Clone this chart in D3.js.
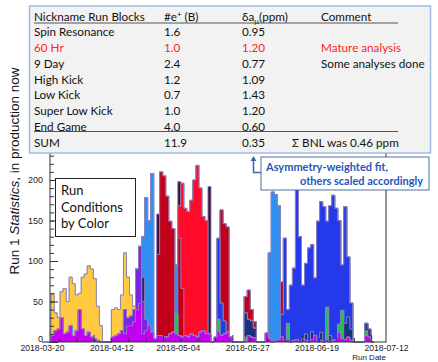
<!DOCTYPE html>
<html>
<head>
<meta charset="utf-8">
<script src="https://cdn.jsdelivr.net/npm/d3@7"></script>
<style>
  body { margin: 0; background: #fff; }
  svg { display: block; }
</style>
</head>
<body>
<script>
// one bin per day, starting 2018-03-20
const binStart = "2018-03-20";
const labelDates = ["2018-03-20", "2018-04-12", "2018-05-04", "2018-05-27", "2018-06-19", "2018-07-12"];
const yTicks = [0, 50, 100, 150, 200];

const magenta = [
  0,0,0,8,14,16,30,10,12,20,
  8,14,40,16,8,12,6,4,2,0,
  0,0,0,6,8,10,14,10,20,20,
  25,40,48,10,14,20,12,4,8,8,
  6,6,10,12,10,8,6,8,6,10,
  8,6,12,14,10,10,0,6,13,8,
  10,12,6,0,0,0,0,0,8,6,
  5,0,0,0,11,4,0,2,3,6,
  2,3,0,2,3,0,4,2,0,3,
  8,0,2,0,3,0,2,3,12,4,
  3,6,2,0,0,0,0,8,6,0];
const purple = [
  0,0,0,0,0,0,0,0,0,0,
  0,0,0,0,0,0,0,0,0,0,
  0,0,0,0,0,0,0,30,10,12,
  15,50,70,40,14,0,0,0,0,0,
  0,0,0,0,0,0,0,0,0,0,
  0,0,0,0,0,0,0,0,0,0,
  0,0,0,0,0,0,0,0,0,0,
  0,0,0,0,0,0,0,0,0,0,
  0,0,0,0,0,0,0,0,0,0,
  0,0,0,0,0,0,0,0,0,0,
  0,0,0,0,0,0,0,0,0,0];
const green = [
  0,0,0,0,0,0,0,0,0,0,
  0,0,0,0,0,0,0,0,0,0,
  0,0,0,0,0,0,0,0,0,0,
  0,0,0,0,0,0,0,0,0,0,
  0,0,0,0,25,0,0,0,0,0,
  0,0,0,0,0,0,0,0,15,0,
  0,0,0,0,0,0,0,6,0,0,
  0,0,0,0,0,0,0,0,0,0,
  0,20,0,0,0,0,0,0,0,0,
  0,0,0,0,40,0,0,0,10,35,
  0,0,0,0,0,0,0,6,0,0];
const navy = [
  0,0,0,0,0,0,0,0,0,0,
  0,0,0,0,0,0,0,0,0,0,
  0,0,0,0,0,0,0,0,0,0,
  0,0,0,30,0,0,0,0,0,0,
  0,0,0,0,0,0,0,0,0,0,
  0,0,0,0,0,0,0,0,0,0,
  0,0,0,0,0,0,0,30,20,20,
  12,0,0,0,0,0,0,0,0,0,
  0,0,0,0,0,0,0,8,0,10,
  0,0,10,0,0,8,0,0,0,0,
  20,25,14,0,0,0,0,9,10,0];
const blue = [
  0,0,0,0,0,0,0,0,0,0,
  0,0,0,0,0,0,0,0,0,0,
  0,0,0,0,0,0,0,0,0,0,
  0,0,0,0,0,0,0,0,0,0,
  0,0,0,0,0,0,0,0,0,0,
  0,0,0,0,0,0,0,0,100,40,
  16,0,0,0,0,0,0,0,0,0,
  0,0,0,0,0,0,0,0,0,28,
  126,17,70,89,197,130,66,87,116,107,
  71,149,161,167,106,160,179,162,128,56,
  144,74,32,0,0,0,0,0,0,0];
const lightblue = [
  0,0,0,0,0,0,0,0,0,0,
  0,0,0,0,0,0,0,0,0,0,
  0,0,0,0,0,0,0,0,0,0,
  0,0,0,50,150,130,196,0,0,0,
  0,0,0,0,60,0,0,0,0,0,
  0,0,0,0,0,0,0,0,0,0,
  0,0,0,0,0,0,0,0,0,0,
  0,0,0,0,0,106,185,180,165,0,
  0,0,0,0,0,0,0,0,0,0,
  0,0,0,0,0,0,0,0,0,0,
  0,0,0,0,0,0,0,0,0,0];
const darkred = [
  0,0,0,0,0,0,0,0,0,0,
  0,0,0,0,0,0,0,0,0,0,
  0,0,0,0,0,0,0,0,0,0,
  0,0,0,0,0,0,0,0,100,202,
  199,174,139,128,0,120,60,0,0,0,
  0,0,0,0,0,0,0,0,0,115,
  120,130,0,0,0,0,0,20,36,14,
  8,0,0,0,0,0,0,0,0,40,
  0,0,0,0,0,0,0,0,0,0,
  0,0,0,0,0,0,0,0,0,0,
  0,0,0,0,0,0,0,0,0,0];
const red = [
  0,0,0,0,0,0,0,0,0,0,
  0,0,0,0,0,0,0,0,0,0,
  0,0,0,0,0,0,0,0,0,0,
  0,0,0,0,0,0,0,0,0,0,
  0,0,0,0,0,40,130,157,155,165,
  192,212,178,141,140,0,0,0,0,0,
  0,0,0,0,0,0,0,0,0,0,
  0,0,0,0,0,0,0,0,0,0,
  0,0,0,0,0,0,0,0,0,0,
  0,0,0,0,0,0,0,0,0,0,
  0,0,0,0,0,0,0,0,0,0];
const orange = [
  0,0,0,52,22,14,32,56,38,60,
  64,44,20,64,76,82,84,74,42,20,
  0,0,0,34,34,30,44,70,50,26,
  4,0,0,0,0,0,0,0,0,0,
  0,0,0,0,0,0,0,0,0,0,
  0,0,0,0,0,0,0,0,0,0,
  0,0,0,0,0,0,0,0,0,0,
  0,0,0,0,0,0,0,0,0,0,
  0,0,0,0,0,0,0,0,0,0,
  0,0,0,0,0,0,0,0,0,0,
  0,0,0,0,0,0,0,0,0,0];
const maroon = [
  0,0,0,0,0,0,0,0,0,0,
  0,0,0,0,0,0,0,0,0,0,
  0,0,0,0,0,0,0,0,0,0,
  0,0,0,0,0,0,0,0,50,0,
  0,0,0,0,0,30,0,0,0,0,
  0,0,0,0,0,182,0,0,0,0,
  0,0,0,0,0,0,0,0,0,0,
  0,0,0,0,0,0,0,0,0,0,
  0,0,0,0,0,0,0,0,0,0,
  0,0,0,0,0,0,0,0,0,0,
  0,0,0,0,0,0,0,0,0,0];

// stack order, bottom to top
const seriesKeys = ["magenta", "purple", "green", "navy", "blue", "lightblue", "darkred", "red", "orange", "maroon"];
const seriesValues = { magenta, purple, green, navy, blue, lightblue, darkred, red, orange, maroon };
const seriesColors = {
  magenta: "#c400f2", purple: "#7a26e4", green: "#1ec44c", navy: "#1d2f78",
  blue: "#2439ea", lightblue: "#2f8ef0", darkred: "#c2001a", red: "#ff0a28",
  orange: "#ffc941", maroon: "#3c0a2e"
};

const tableHeader = ["Nickname Run Blocks", "#e", "δa", "Comment"];
const tableRows = [
  ["Spin Resonance", "1.6", "0.95", ""],
  ["60 Hr", "1.0", "1.20", "Mature analysis"],
  ["9 Day", "2.4", "0.77", "Some analyses done"],
  ["High Kick", "1.2", "1.09", ""],
  ["Low Kick", "0.7", "1.43", ""],
  ["Super Low Kick", "1.0", "1.20", ""],
  ["End Game", "4.0", "0.60", ""]
];
const sumRow = ["SUM", "11.9", "0.35", "Σ BNL was 0.46 ppm"];
const highlighted = "60 Hr";
const legendLines = ["Run", "Conditions", "by Color"];
const noteLines = ["Asymmetry-weighted fit,", "others scaled accordingly"];

const W = 438, H = 362;
const frame = { left: 50, right: 386, top: 147, bottom: 342 };
const axisFont = "'Liberation Sans', Arial, sans-serif";
const boxFont = "Lato, 'Open Sans', sans-serif";

const svg = d3.select("body").append("svg").attr("width", W).attr("height", H);

const parse = d3.utcParse("%Y-%m-%d");
const t0 = parse(binStart);
const x = d3.scaleUtc()
  .domain([parse("2018-03-20"), parse("2018-07-12")])
  .range([42, frame.right]);
const y = d3.scaleLinear().domain([0, 240]).range([frame.bottom, frame.bottom - 240 * 0.81]);

const rows = magenta.map((_, i) => {
  const r = { date: d3.utcDay.offset(t0, i) };
  seriesKeys.forEach(k => r[k] = seriesValues[k][i]);
  return r;
});
const stacked = d3.stack().keys(seriesKeys)(rows);

// each layer drawn as filled step histogram from 0 to its cumulative top (ROOT THStack style)
const stepLine = d3.line().x(p => p[0]).y(p => p[1]);
function stepPoints(layer) {
  const pts = [[x(rows[0].date), y(0)]];
  layer.forEach((s, i) => {
    const x0 = x(rows[i].date), x1 = x(d3.utcDay.offset(rows[i].date, 1));
    pts.push([x0, y(s[1])], [x1, y(s[1])]);
  });
  pts.push([x(d3.utcDay.offset(rows[rows.length - 1].date, 1)), y(0)]);
  return pts;
}

const bars = svg.append("g");
stacked.slice().reverse().forEach(layer => {
  const pts = stepPoints(layer);
  bars.append("path")
    .attr("d", stepLine(pts) + "Z")
    .attr("fill", seriesColors[layer.key])
    .attr("stroke", "none");
  bars.append("path")
    .attr("d", stepLine(pts.slice(1, -1)))
    .attr("fill", "none")
    .attr("stroke", "#8c84bc")
    .attr("stroke-width", 0.9);
});

// frame
svg.append("rect")
  .attr("x", frame.left).attr("y", frame.top)
  .attr("width", frame.right - frame.left).attr("height", frame.bottom - frame.top)
  .attr("fill", "none").attr("stroke", "#333").attr("stroke-width", 1);

// y axis, ticks pointing inside
const yAxis = svg.append("g")
  .attr("transform", `translate(${frame.left},0)`)
  .call(d3.axisLeft(y).tickValues(yTicks).tickSize(-8).tickPadding(7));
svg.append("g")
  .attr("transform", `translate(${frame.left},0)`)
  .call(d3.axisLeft(y).tickValues(d3.range(0, 241, 10)).tickSize(-4).tickFormat(""))
  .call(g => g.select(".domain").remove());
yAxis.select(".domain").remove();
yAxis.selectAll("text").attr("font-family", axisFont).attr("font-size", 9).attr("fill", "#222")
  .attr("dy", d => d === 0 ? "-0.08em" : "0.32em");
svg.selectAll(".tick line").attr("stroke", "#333");

// x axis
const fmt = d3.utcFormat("%Y-%m-%d");
const xAxis = svg.append("g")
  .attr("transform", `translate(0,${frame.bottom})`)
  .call(d3.axisBottom(x).tickValues(labelDates.map(parse)).tickSize(0).tickPadding(3).tickFormat(fmt));
xAxis.select(".domain").remove();
xAxis.selectAll("text").attr("font-family", axisFont).attr("font-size", 8.6).attr("fill", "#222");
const minor = d3.range(0, 115, 23 / 4).map(d => d3.utcHour.offset(parse("2018-03-20"), d * 24))
  .filter(d => x(d) > frame.left + 1 && x(d) < frame.right - 1);
svg.append("g").selectAll("line").data(minor).join("line")
  .attr("x1", d => x(d)).attr("x2", d => x(d))
  .attr("y1", frame.bottom).attr("y2", (d, i) => frame.bottom - ((i % 4 === 2) ? 7 : 4))
  .attr("stroke", "#333");

svg.append("text")
  .attr("x", frame.right).attr("y", 360.2)
  .attr("text-anchor", "end")
  .attr("font-family", axisFont).attr("font-size", 8).attr("fill", "#222")
  .text("Run Date");

// y title
const yTitle = svg.append("text")
  .attr("transform", "translate(19,171) rotate(-90)")
  .attr("text-anchor", "middle")
  .attr("font-family", axisFont).attr("font-size", 13.5).attr("fill", "#111");
yTitle.append("tspan").text("Run 1 ");
yTitle.append("tspan").attr("font-style", "italic").text("Statistics");
yTitle.append("tspan").text(", in production now");

// legend box
const leg = svg.append("g");
leg.append("rect").attr("x", 55.5).attr("y", 178.5).attr("width", 80).attr("height", 58)
  .attr("fill", "#fff").attr("stroke", "#222").attr("stroke-width", 1);
leg.selectAll("text").data(legendLines).join("text")
  .attr("x", 61).attr("y", (d, i) => 195 + i * 16.5)
  .attr("font-family", boxFont).attr("font-size", 13).attr("fill", "#111")
  .text(d => d);

// annotation box with arrow
const note = svg.append("g");
note.append("rect").attr("x", 261).attr("y", 157).attr("width", 168).attr("height", 33)
  .attr("fill", "#fff").attr("stroke", "#4d6fa3").attr("stroke-width", 1);
note.append("path").attr("d", "M261,172.5H253.5V159").attr("fill", "none")
  .attr("stroke", "#3f66a6").attr("stroke-width", 1.5);
note.append("path").attr("d", "M250.5,161L253.5,156L256.5,161Z").attr("fill", "#3f66a6");
note.selectAll("text").data(noteLines).join("text")
  .attr("x", (d, i) => i === 0 ? 266 : 300)
  .attr("y", (d, i) => 171 + i * 14)
  .attr("font-family", boxFont).attr("font-size", 11).attr("font-weight", 700)
  .attr("fill", "#2457b8")
  .text(d => d);

// table
const tab = svg.append("g");
tab.append("rect").attr("x", 29.5).attr("y", 6).attr("width", 401).attr("height", 147)
  .attr("fill", "#f2f2f2").attr("stroke", "#9fbde2").attr("stroke-width", 1.5);
const colX = [34, 164, 242, 321];
const rowY = i => 20.5 + i * 15.75;
const tFont = (sel) => sel.attr("font-family", boxFont).attr("font-size", 11.7);

const hdr = tab.append("g").attr("fill", "#111");
tFont(hdr.append("text").attr("x", colX[0]).attr("y", rowY(0))).text(tableHeader[0]);
const h1 = tFont(hdr.append("text").attr("x", colX[1]).attr("y", rowY(0)));
h1.append("tspan").text(tableHeader[1]);
h1.append("tspan").attr("dy", -4).attr("font-size", 8).text("+");
h1.append("tspan").attr("dy", 4).text(" (B)");
const h2 = tFont(hdr.append("text").attr("x", colX[2]).attr("y", rowY(0)));
h2.append("tspan").text(tableHeader[2]);
h2.append("tspan").attr("dy", 3).attr("font-size", 8).text("μ");
h2.append("tspan").attr("dy", -3).text("(ppm)");
tFont(hdr.append("text").attr("x", colX[3]).attr("y", rowY(0))).text(tableHeader[3]);

tableRows.forEach((r, i) => {
  const col = r[0] === highlighted ? "#ff1f1f" : "#111";
  r.forEach((cell, j) => {
    tFont(tab.append("text").attr("x", colX[j]).attr("y", rowY(i + 1)).attr("fill", col)).text(cell);
  });
});
const sumX = [34, 164, 242, 292];
sumRow.forEach((cell, j) => {
  tFont(tab.append("text").attr("x", sumX[j]).attr("y", rowY(8)).attr("fill", "#111")).text(cell);
});
tab.append("line").attr("x1", 34).attr("x2", 398).attr("y1", 23).attr("y2", 23)
  .attr("stroke", "#555").attr("stroke-width", 1.2);
tab.append("line").attr("x1", 34).attr("x2", 398).attr("y1", 131.5).attr("y2", 131.5)
  .attr("stroke", "#555").attr("stroke-width", 1.2);
</script>
</body>
</html>
